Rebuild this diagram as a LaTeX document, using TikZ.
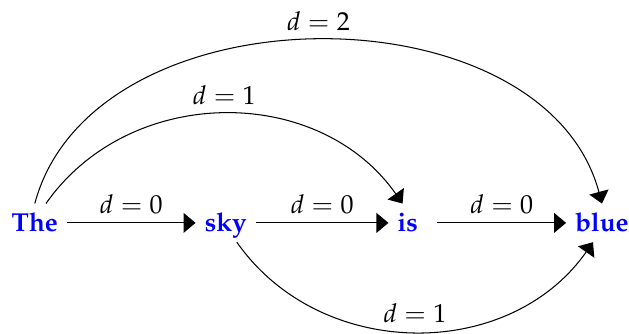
\documentclass[tikz,border=0pt]{standalone}
\usepackage[T1]{fontenc}
\usepackage{mathpazo}
\usetikzlibrary{arrows.meta}

\begin{document}
\begin{tikzpicture}[>={Triangle[length=4.6pt,width=7.6pt]},
    word/.style={text=blue, font=\bfseries, anchor=base, text height=7.4pt, text depth=0.4pt}]
    \useasboundingbox (0,0) rectangle (8.5,4.5);

    % Words
    \node[word] (the) at (0.47,1.365) {The};
    \node[word] (sky) at (3.05,1.365) {sky};
    \node[word] (is) at (5.51,1.365) {is};
    \node[word] (blue) at (8.135,1.365) {blue};

    % Neighbours (d = 0)
    \draw[->] (the) -- node[above] {$d = 0$} (sky);
    \draw[->] (sky) -- node[above] {$d = 0$} (is);
    \draw[->] ([xshift=4pt]is.east) -- node[above] {$d = 0$} (blue);

    % Longer jumps
    \draw[->] (the.60) to[out=55, in=125, looseness=1.05] node[above] {$d = 1$} (is.105);
    \draw[->] (the.north) to[out=75, in=105, looseness=1.02] node[above] {$d = 2$} (blue.north);
    \draw[->] (sky.-60) to[out=-55, in=-125, looseness=1.05] node[above] {$d = 1$} (blue.-115);
\end{tikzpicture}
\end{document}
